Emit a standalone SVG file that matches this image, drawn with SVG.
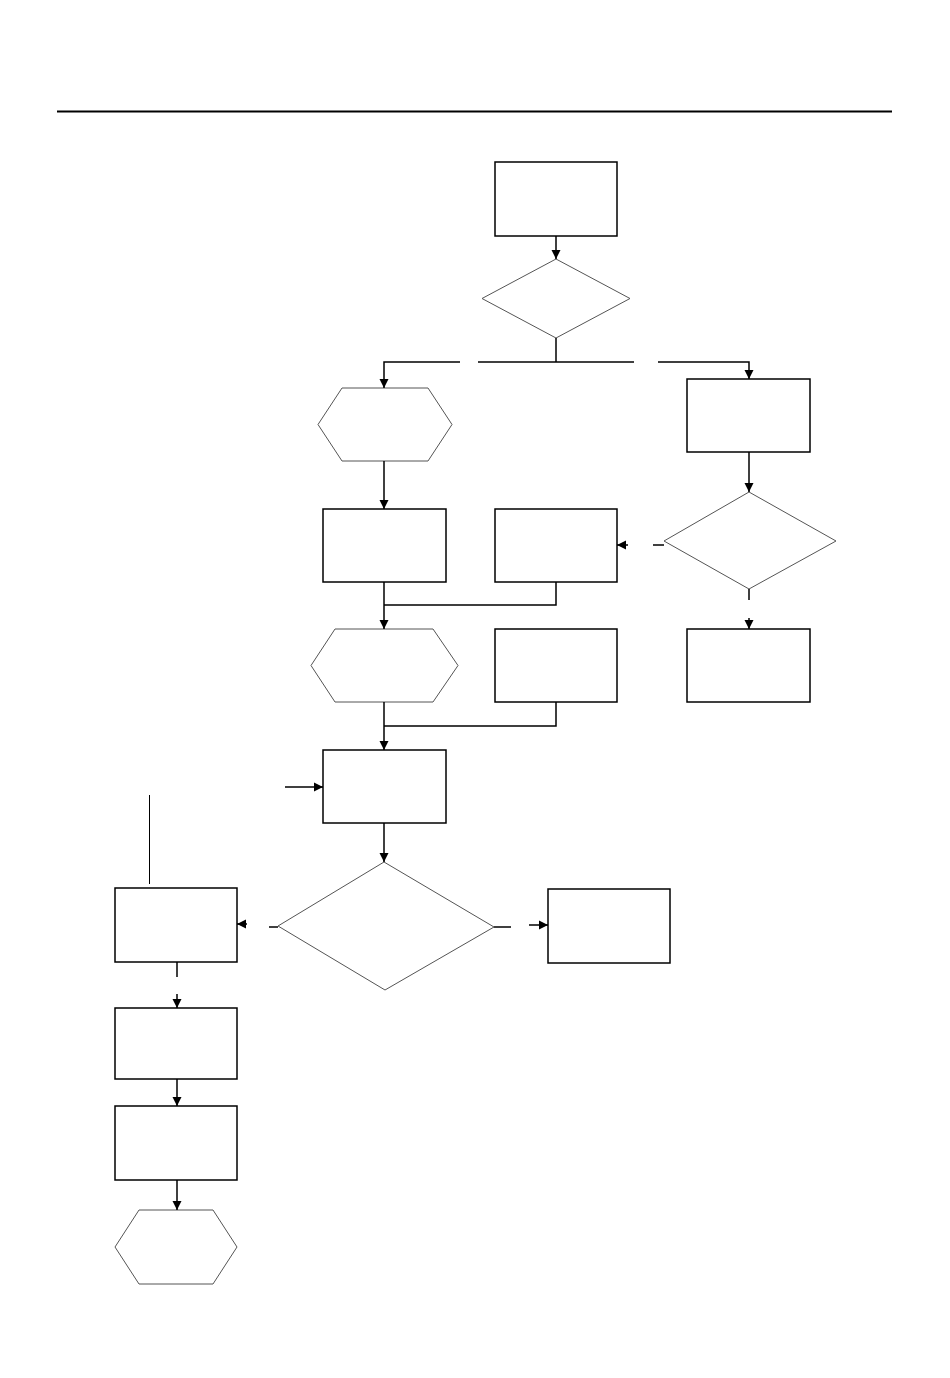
<svg xmlns="http://www.w3.org/2000/svg" width="950" height="1378" viewBox="0 0 950 1378">
<style>
.box{fill:#fff;stroke:#000;stroke-width:1.5}
.shape{fill:#fff;stroke:#555;stroke-width:1}
.c{fill:none;stroke:#000;stroke-width:1.5}
.thin{fill:none;stroke:#000;stroke-width:1}
</style>
<defs>
<marker id="ah" viewBox="0 0 10 10" refX="10" refY="5" markerWidth="9" markerHeight="10" markerUnits="userSpaceOnUse" orient="auto">
<path d="M0,0 L10,5 L0,10 z" fill="#000"/>
</marker>
</defs>
<rect width="950" height="1378" fill="#fff"/>
<line x1="57" y1="111.5" x2="892" y2="111.5" stroke="#000" stroke-width="2"/>
<g id="nodes">
<g id="n1"><rect class="box" x="495" y="162" width="122" height="74"/></g>
<g id="d1"><polygon class="shape" points="482,298.5 556,259 630,298.5 556,338"/></g>
<g id="h1"><polygon class="shape" points="342,388 428,388 452,424.5 428,461 342,461 318,424.5"/></g>
<g id="n2"><rect class="box" x="687" y="379" width="123" height="73"/></g>
<g id="d2"><polygon class="shape" points="664,541 749,492 836,541 749,589"/></g>
<g id="n3"><rect class="box" x="323" y="509" width="123" height="73"/></g>
<g id="n4"><rect class="box" x="495" y="509" width="122" height="73"/></g>
<g id="h2"><polygon class="shape" points="335,629 433,629 458,665.5 433,702 335,702 311,665.5"/></g>
<g id="n5"><rect class="box" x="495" y="629" width="122" height="73"/></g>
<g id="n6"><rect class="box" x="687" y="629" width="123" height="73"/></g>
<g id="n7"><rect class="box" x="323" y="750" width="123" height="73"/></g>
<g id="d3"><polygon class="shape" points="278,926 384,862 494,927 385,990"/></g>
<g id="n8"><rect class="box" x="115" y="888" width="122" height="74"/></g>
<g id="n9"><rect class="box" x="548" y="889" width="122" height="74"/></g>
<g id="n10"><rect class="box" x="115" y="1008" width="122" height="71"/></g>
<g id="n11"><rect class="box" x="115" y="1106" width="122" height="74"/></g>
<g id="h3"><polygon class="shape" points="139,1210 213,1210 237,1247 213,1284 139,1284 115,1247"/></g>
</g>
<g id="connectors">
<path class="c" d="M556,236 V259" marker-end="url(#ah)"/>
<path class="c" d="M556,338 V362"/>
<path class="c" d="M460,362 H384 V388" marker-end="url(#ah)"/>
<path class="c" d="M478,362 H634"/>
<path class="c" d="M658,362 H749 V379" marker-end="url(#ah)"/>
<path class="c" d="M749,452 V492" marker-end="url(#ah)"/>
<path class="c" d="M653,545 H664"/>
<path class="c" d="M628,545 H617" marker-end="url(#ah)"/>
<path class="c" d="M749,589 V600"/>
<path class="c" d="M749,618 V629" marker-end="url(#ah)"/>
<path class="c" d="M384,461 V509" marker-end="url(#ah)"/>
<path class="c" d="M384,582 V629" marker-end="url(#ah)"/>
<path class="c" d="M556,582 V605 H384"/>
<path class="c" d="M384,702 V750" marker-end="url(#ah)"/>
<path class="c" d="M556,702 V726 H384"/>
<path class="c" d="M285,787 H323" marker-end="url(#ah)"/>
<path class="c" d="M384,823 V862" marker-end="url(#ah)"/>
<path class="c" d="M269,927 H278"/>
<path class="c" d="M247,924 H237" marker-end="url(#ah)"/>
<path class="c" d="M494,927 H511"/>
<path class="c" d="M529,925 H548" marker-end="url(#ah)"/>
<path class="thin" d="M149.5,795 V884"/>
<path class="c" d="M177,962 V977"/>
<path class="c" d="M177,994 V1008" marker-end="url(#ah)"/>
<path class="c" d="M177,1079 V1106" marker-end="url(#ah)"/>
<path class="c" d="M177,1180 V1210" marker-end="url(#ah)"/>
</g>
</svg>
